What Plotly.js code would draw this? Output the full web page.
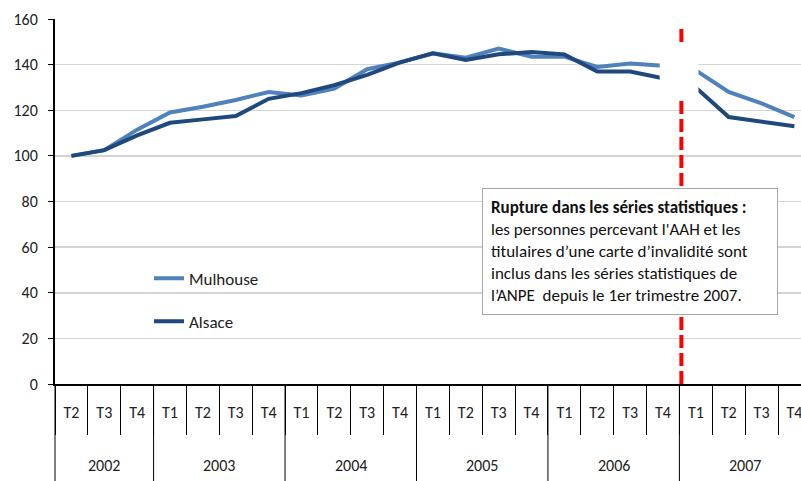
<!DOCTYPE html>
<html>
<head>
<meta charset="utf-8">
<script src="https://cdn.plot.ly/plotly-3.0.1.min.js"></script>
<style>html,body{margin:0;padding:0;background:#fff;}#chart{width:801px;height:481px;}</style>
</head>
<body>
<div id="chart"></div>
<script>
const years = ["2002","2002","2002","2003","2003","2003","2003","2004","2004","2004","2004","2005","2005","2005","2005","2006","2006","2006","2006","2007","2007","2007","2007"];
const quarters = ["T2","T3","T4","T1","T2","T3","T4","T1","T2","T3","T4","T1","T2","T3","T4","T1","T2","T3","T4","T1","T2","T3","T4"];
const mulhouse = [100, 102.5, 111.5, 119, 121.5, 124.5, 128, 126.5, 129.5, 138, 141, 145, 143, 147, 143.5, 143.5, 139, 140.5, 139.5, 137.5, 128, 123, 117];
const alsace   = [100, 102.5, 109, 114.5, 116, 117.5, 125, 127.5, 131, 135.5, 141, 145, 142, 144.5, 145.5, 144.5, 137, 137, 134, 130, 117, 115, 113];

const FONT = "Carlito, Lato, 'Liberation Sans', sans-serif";
const cats = quarters.map((q, i) => q + " " + years[i]);
const xRange = [-0.5, 22.2];
const breakPos = 18.56;
const toPaper = i => (i - xRange[0]) / (xRange[1] - xRange[0]);
const plotH = 481 - 19 - 97;
const bottomPaper = -97 / plotH;

const traces = [
  {x: cats, y: mulhouse, name: "Mulhouse", type: "scatter", mode: "lines",
   line: {color: "#4F81BD", width: 4}, legendgroup: "a"},
  {x: cats, y: alsace, name: "Alsace", type: "scatter", mode: "lines",
   line: {color: "#1F497D", width: 4}, legendgroup: "b"}
];

// year dividers and year labels
const shapes = [];
const annotations = [];
const yearStarts = [];
years.forEach((y, i) => { if (i === 0 || y !== years[i - 1]) yearStarts.push(i); });
yearStarts.forEach((s, k) => {
  const e = (k + 1 < yearStarts.length) ? yearStarts[k + 1] : years.length;
  shapes.push({type: "line", xref: "paper", yref: "paper", x0: toPaper(s - 0.5), x1: toPaper(s - 0.5),
               y0: 0, y1: bottomPaper, line: {color: "#000", width: 1}, layer: "above"});
  annotations.push({xref: "x", yref: "paper", x: (s + e - 1) / 2, y: -81 / plotH, xanchor: "center",
                    yanchor: "middle", showarrow: false, text: years[s], font: {size: 16, color: "#222"}});
});

shapes.push({type: "line", xref: "paper", yref: "paper", x0: toPaper(breakPos), x1: toPaper(breakPos),
             y0: 0, y1: 0.978, line: {color: "#FF0000", width: 4, dash: "13px,5px"}, layer: "above"});
shapes.push({type: "rect", xref: "paper", yref: "y", x0: toPaper(17.9), x1: toPaper(19.08),
             y0: 126, y1: 149, fillcolor: "#fff", line: {width: 0}, layer: "above"});

annotations.push({xref: "paper", yref: "paper", x: 0.5724, y: 0.537, xanchor: "left", yanchor: "top",
  showarrow: false, align: "left", bgcolor: "#fff", bordercolor: "#a6a6a6", borderwidth: 1,
  borderpad: 8, width: 278, font: {size: 17, color: "#111"},
  text: "<b>Rupture dans les séries statistiques :</b><br>les personnes percevant l'AAH et les<br>titulaires d’une carte d’invalidité sont<br>inclus dans les séries statistiques de<br>l’ANPE  depuis le 1er trimestre 2007."});

const layout = {
  width: 801, height: 481,
  margin: {l: 55, r: 0, t: 19, b: 97},
  paper_bgcolor: "#fff", plot_bgcolor: "#fff",
  font: {family: FONT, size: 16, color: "#222"},
  showlegend: true,
  legend: {x: 0.126, y: 0.338, xanchor: "left", yanchor: "top", bgcolor: "rgba(0,0,0,0)",
           tracegroupgap: 18, font: {size: 17, color: "#222"}},
  xaxis: {type: "category", range: xRange, showline: true, linecolor: "#000", linewidth: 2,
          tickmode: "array", tickvals: cats, ticktext: quarters,
          ticks: "outside", tickson: "boundaries", ticklen: 49, tickcolor: "#000", tickwidth: 1,
          ticklabelstandoff: 13,
          showgrid: false, zeroline: false, tickfont: {size: 16, color: "#222"}},
  yaxis: {range: [0, 160], dtick: 20, showline: true, linecolor: "#000", linewidth: 2,
          ticks: "outside", ticklen: 5, tickcolor: "#000", tickwidth: 1, ticklabelstandoff: 7,
          gridcolor: "#d4d4d4", gridwidth: 1.5, zeroline: false,
          tickfont: {size: 16, color: "#222"}},
  shapes: shapes,
  annotations: annotations
};

Plotly.newPlot("chart", traces, layout, {displayModeBar: false, staticPlot: true});
</script>
</body>
</html>
